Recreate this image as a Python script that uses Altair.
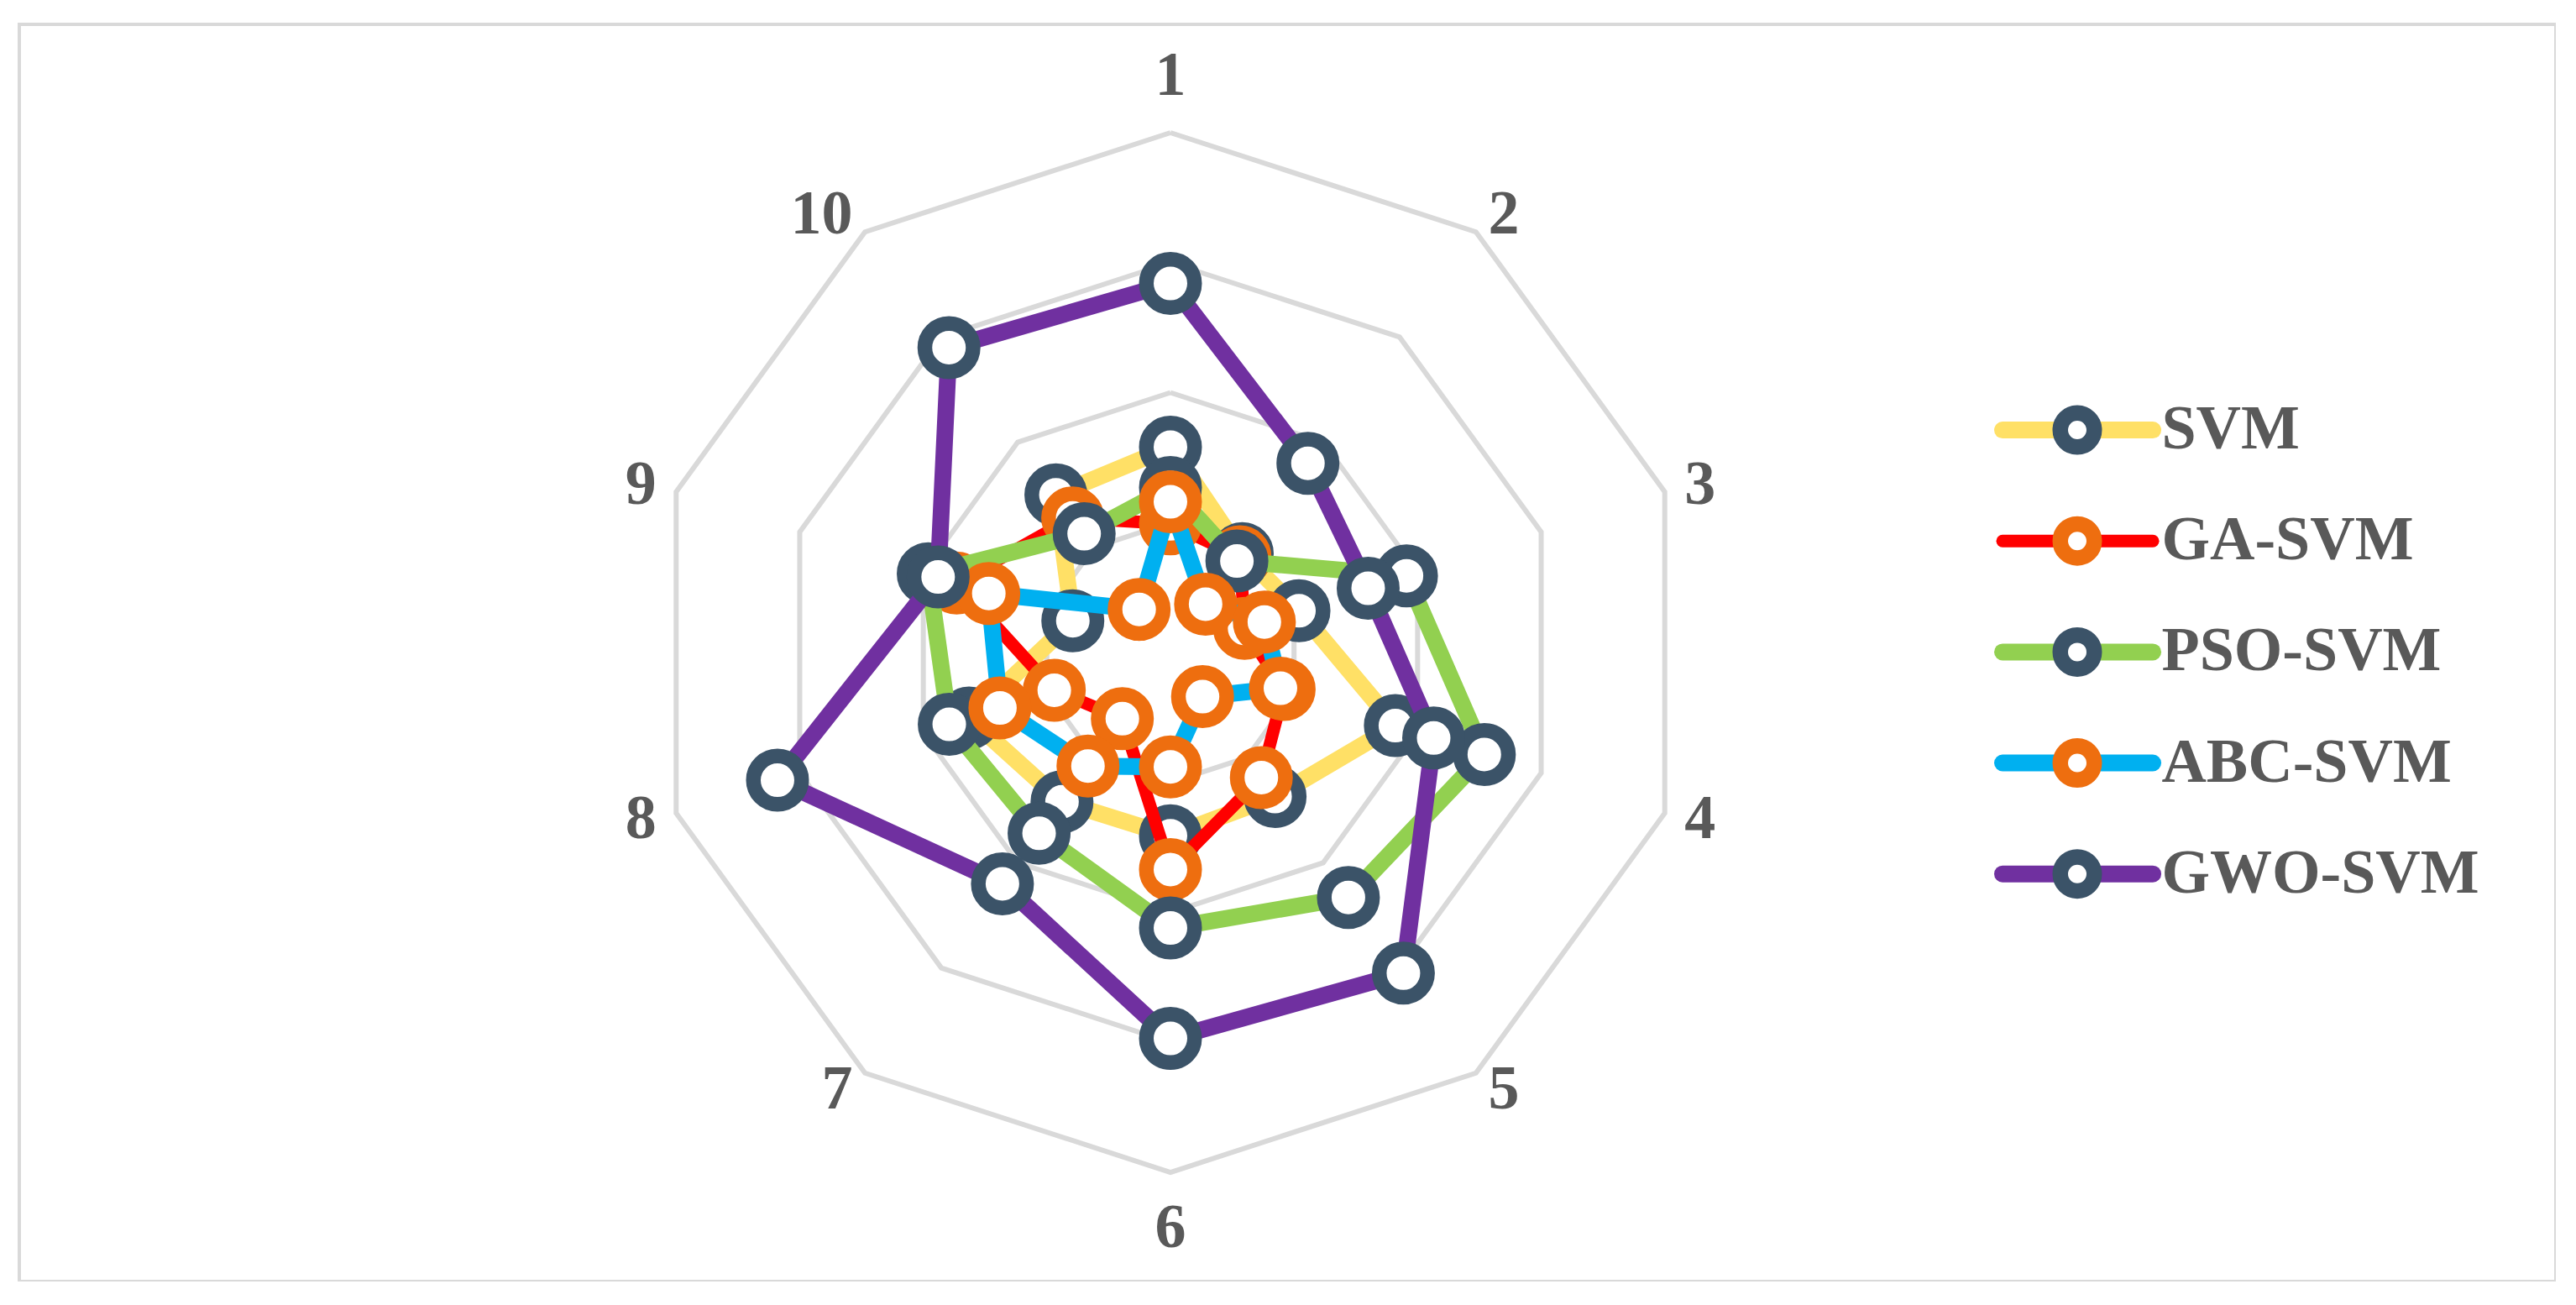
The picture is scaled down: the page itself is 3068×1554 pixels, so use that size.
import math
import altair as alt
import pandas as pd

# ---------------- data ----------------
categories = ["1", "2", "3", "4", "5", "6", "7", "8", "9", "10"]
series_names = ["SVM", "GA-SVM", "PSO-SVM", "ABC-SVM", "GWO-SVM"]
svm_values = [1.58, 0.94, 1.04, 1.82, 1.37, 1.41, 1.42, 1.63, 0.79, 1.50]
ga_values = [0.99, 0.91, 0.60, 0.92, 1.19, 1.67, 0.63, 0.94, 1.73, 1.28]
pso_values = [1.27, 0.87, 1.91, 2.54, 2.33, 2.12, 1.72, 1.79, 1.96, 1.13]
abc_values = [1.16, 0.46, 0.76, 0.89, 0.42, 0.88, 1.08, 1.38, 1.47, 0.41]
gwo_values = [2.84, 1.80, 1.60, 2.13, 3.05, 2.97, 2.20, 3.18, 1.88, 2.90]
grid_levels = [1, 2, 3, 4]

# ---------------- styles ----------------
line_colors = ["#FFE066", "#FF0000", "#92D050", "#00B0F0", "#7030A0"]
marker_colors = ["#3B5368", "#EE6E0F", "#3B5368", "#EE6E0F", "#3B5368"]
line_widths = [20, 15, 20, 20, 20]
grid_color = "#D9D9D9"
text_color = "#595959"
font = "Liberation Serif"
font_size = 74

all_values = [svm_values, ga_values, pso_values, abc_values, gwo_values]
n = len(categories)
angles = [2 * math.pi * k / n for k in range(n)]

# scales (units = grid steps)
xs = alt.Scale(domain=[-8.8595, 10.6624], nice=False, zero=False)
ys = alt.Scale(domain=[-4.8401, 4.8336], nice=False, zero=False)
X = lambda f: alt.X(f, type="quantitative", scale=xs, axis=None)
Y = lambda f: alt.Y(f, type="quantitative", scale=ys, axis=None)


def polygon(values, name):
    rows = []
    for i in range(n + 1):
        k = i % n
        v = values[k]
        rows.append({"series": name, "order": i, "cat": categories[k],
                     "value": v,
                     "x": v * math.sin(angles[k]),
                     "y": v * math.cos(angles[k])})
    return rows


# grid decagons
grid_rows = []
for lv in grid_levels:
    grid_rows += polygon([lv] * n, f"ring{lv}")
grid_df = pd.DataFrame(grid_rows)
grid = alt.Chart(grid_df).mark_line(color=grid_color, strokeWidth=6, strokeJoin="miter").encode(
    x=X("x"), y=Y("y"), detail="series:N", order="order:Q")

layers = [grid]

# series
for s, name in enumerate(series_names):
    df = pd.DataFrame(polygon(all_values[s], name))
    line = alt.Chart(df).mark_line(color=line_colors[s], strokeWidth=line_widths[s],
                                   strokeJoin="round", strokeCap="round").encode(
        x=X("x"), y=Y("y"), order="order:Q")
    pts = alt.Chart(df[df["order"] < n]).mark_point(
        shape="circle", filled=True, fill="white", stroke=marker_colors[s],
        strokeWidth=17.5, size=3306, opacity=1, fillOpacity=1).encode(
        x=X("x"), y=Y("y"), tooltip=["series:N", "cat:N", "value:Q"])
    layers += [line, pts]

# axis category labels
R = 4.16
lab_rows = []
for k in range(n):
    sn, cs = math.sin(angles[k]), math.cos(angles[k])
    if abs(sn) < 1e-6:
        side = "center"
        lx, ly = 0.0, (R + 0.27) * (1 if cs > 0 else -1)
    else:
        side = "left" if sn > 0 else "right"
        lx, ly = R * sn, R * cs
    lab_rows.append({"label": categories[k], "x": lx, "y": ly, "side": side})
lab_df = pd.DataFrame(lab_rows)
for side in ["left", "right", "center"]:
    layers.append(
        alt.Chart(lab_df[lab_df["side"] == side]).mark_text(
            align=side, baseline="middle", font=font, fontSize=font_size,
            fontWeight="bold", color=text_color).encode(
            x=X("x"), y=Y("y"), text="label:N"))

# manual legend
leg_rows = []
for i, name in enumerate(series_names):
    yy = 1.712 - 0.854 * i
    leg_rows.append({"series": name, "x1": 6.404, "x2": 7.561, "xm": 6.979,
                     "xt": 7.628, "y": yy})
leg_df = pd.DataFrame(leg_rows)
for i, name in enumerate(series_names):
    d = leg_df[leg_df["series"] == name]
    layers.append(alt.Chart(d).mark_rule(color=line_colors[i], strokeWidth=line_widths[i],
                                         strokeCap="round").encode(
        x=X("x1"), x2="x2:Q", y=Y("y")))
    layers.append(alt.Chart(d).mark_point(
        shape="circle", filled=True, fill="white", stroke=marker_colors[i],
        strokeWidth=18.5, size=1640, opacity=1, fillOpacity=1).encode(
        x=X("xm"), y=Y("y")))
layers.append(alt.Chart(leg_df).mark_text(
    align="left", baseline="middle", font=font, fontSize=font_size,
    fontWeight="bold", color=text_color).encode(
    x=X("xt"), y=Y("y"), text="series:N"))

chart = alt.layer(*layers).properties(
    width=3021, height=1497,
    autosize=alt.AutoSizeParams(type="none"),
    padding={"left": 15, "top": 21, "right": 0, "bottom": 0},
    background="white",
).configure_view(stroke=grid_color, strokeWidth=4)

chart.save("out.html", embed_options={"renderer": "svg", "actions": False})
